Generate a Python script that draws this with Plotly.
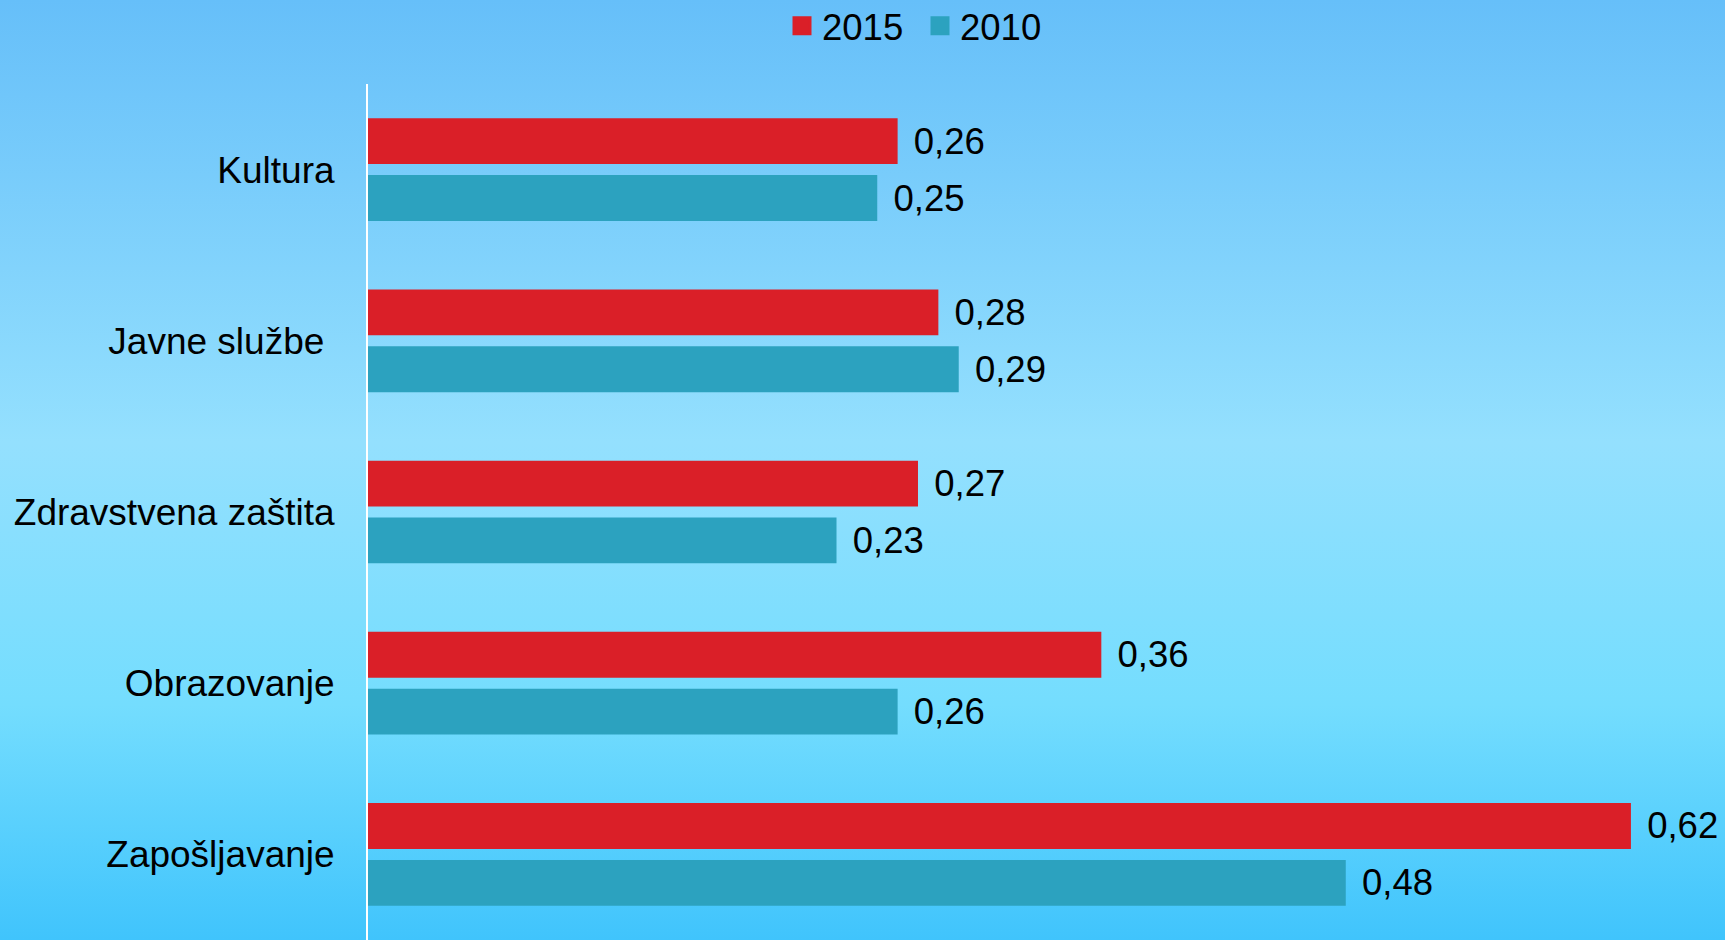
import base64
import plotly.graph_objects as go

categories = ["Kultura", "Javne službe\u00a0", "Zdravstvena zaštita", "Obrazovanje", "Zapošljavanje"]
values_2015 = [0.26, 0.28, 0.27, 0.36, 0.62]
values_2010 = [0.25, 0.29, 0.23, 0.26, 0.48]
series_names = ["2015", "2010"]
colors = ["#DA1F28", "#2CA2BF"]

W, H = 1725, 940
ML, MR, MT, MB = 368, 0, 84, 0
PW, PH = W - ML - MR, H - MT - MB
FS = 36.5
FONT = "Liberation Sans, Arial, sans-serif"

svg = (
    '<svg xmlns="http://www.w3.org/2000/svg" width="10" height="100" preserveAspectRatio="none">'
    '<defs><linearGradient id="g" x1="0" y1="0" x2="0" y2="1">'
    '<stop offset="0" stop-color="#66BFF9"/>'
    '<stop offset="0.47" stop-color="#94E0FE"/>'
    '<stop offset="0.75" stop-color="#74DDFE"/>'
    '<stop offset="1" stop-color="#40C4FC"/>'
    '</linearGradient></defs><rect width="10" height="100" fill="url(#g)"/></svg>'
)
bg_uri = "data:image/svg+xml;base64," + base64.b64encode(svg.encode()).decode()

fig = go.Figure()
for name, vals, col in zip(series_names, [values_2015, values_2010], colors):
    fig.add_trace(go.Bar(
        y=categories, x=vals, orientation="h", name=name,
        marker=dict(color=col, line=dict(width=0)),
        texttemplate="\u00a0\u200a%{x:.2f}", textposition="outside",
        textfont=dict(size=FS, color="black", family=FONT),
        constraintext="none", cliponaxis=False, showlegend=False,
        hoverinfo="skip",
    ))
    fig.add_trace(go.Scatter(
        x=[None], y=[None], mode="markers", name=name,
        marker=dict(symbol="square", size=16, color=col, line=dict(width=3, color=col)),
        showlegend=True,
    ))

fig.update_layout(
    width=W, height=H,
    margin=dict(l=ML, r=MR, t=MT, b=MB, pad=0, autoexpand=False),
    paper_bgcolor="#6CCBFB",
    plot_bgcolor="rgba(0,0,0,0)",
    separators=",.",
    barmode="group", bargap=0.336, bargroupgap=0.193,
    font=dict(family=FONT, size=FS, color="black"),
    legend=dict(
        orientation="h", x=(782 - ML) / PW, xanchor="left",
        y=1 + (MT - 26) / PH, yanchor="middle",
        font=dict(size=FS, family=FONT, color="black"),
        bgcolor="rgba(0,0,0,0)", entrywidth=93,
    ),
    xaxis=dict(range=[0, PW / 2037], visible=False, fixedrange=True),
    yaxis=dict(
        autorange="reversed", showline=True, linecolor="white", linewidth=2,
        showgrid=False, zeroline=False, ticks="", ticklabelstandoff=24,
        tickfont=dict(size=37, family=FONT, color="black"), fixedrange=True,
    ),
    images=[dict(
        source=bg_uri, xref="paper", yref="paper",
        x=-ML / PW, y=1 + MT / PH, sizex=W / PW, sizey=H / PH,
        xanchor="left", yanchor="top", sizing="stretch", layer="below",
    )],
)

fig.write_html(
    "out.html",
    config={"displayModeBar": False},
    post_script="document.body.style.margin='0';document.body.style.overflow='hidden';",
)
